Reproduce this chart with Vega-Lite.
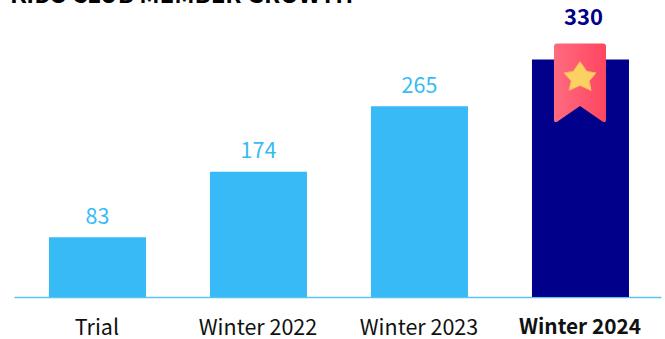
{
  "$schema": "https://vega.github.io/schema/vega-lite/v6.json",
  "autosize": "none",
  "padding": {"left": 14, "top": 9, "right": 4, "bottom": 42},
  "width": 647,
  "height": 288,
  "background": "#ffffff",
  "config": {"view": {"stroke": null}, "font": "Noto Sans CJK SC"},
  "title": {
    "text": "KIDS CLUB MEMBER GROWTH",
    "anchor": "start",
    "frame": "group",
    "dx": -4,
    "offset": -19,
    "font": "Noto Sans CJK SC",
    "fontSize": 23.8,
    "fontWeight": "bold",
    "color": "#000000",
    "baseline": "alphabetic"
  },
  "data": {
    "values": [
      {"period": "Trial", "members": 83},
      {"period": "Winter 2022", "members": 174},
      {"period": "Winter 2023", "members": 265},
      {"period": "Winter 2024", "members": 330}
    ]
  },
  "encoding": {
    "x": {
      "field": "period",
      "type": "nominal",
      "sort": null,
      "scale": {"paddingInner": 0.3975, "paddingOuter": 0.208, "align": 0.522},
      "axis": {
        "title": null,
        "ticks": false,
        "grid": false,
        "labelAngle": 0,
        "labelFontSize": {"condition": {"test": "datum.value === 'Winter 2024'", "value": 20.8}, "value": 21.5},
        "labelColor": "#111111",
        "labelPadding": 20,
        "labelOffset": -0.5,
        "labelFontWeight": {"condition": {"test": "datum.value === 'Winter 2024'", "value": "bold"}, "value": "normal"},
        "domainColor": "#5cc3f2",
        "domainWidth": 1.5
      }
    },
    "y": {
      "field": "members",
      "type": "quantitative",
      "scale": {"domain": [0, 400]},
      "axis": null
    }
  },
  "layer": [
    {
      "mark": {"type": "bar"},
      "encoding": {
        "color": {
          "condition": {"test": "datum.period === 'Winter 2024'", "value": "#00008b"},
          "value": "#38baf7"
        }
      }
    },
    {
      "transform": [{"filter": "datum.period !== 'Winter 2024'"}],
      "mark": {"type": "text", "baseline": "alphabetic", "dy": -13.5, "fontSize": 21.5, "color": "#38baf7"},
      "encoding": {"text": {"field": "members", "type": "quantitative"}}
    },
    {
      "transform": [{"filter": "datum.period === 'Winter 2024'"}],
      "mark": {"type": "text", "baseline": "alphabetic", "dy": -34, "dx": 3, "fontSize": 22, "fontWeight": "bold", "color": "#00008b"},
      "encoding": {"text": {"field": "members", "type": "quantitative"}}
    },
    {
      "transform": [{"filter": "datum.period === 'Winter 2024'"}],
      "mark": {
        "type": "point",
        "filled": true,
        "size": 10000,
        "opacity": 1,
        "shape": "M -0.47 -0.32 L 0.45 -0.32 Q 0.51 -0.32 0.51 -0.26 L 0.51 1.2 Q 0.51 1.28 0.44 1.24 L -0.01 0.934 L -0.46 1.24 Q -0.53 1.28 -0.53 1.2 L -0.53 -0.26 Q -0.53 -0.32 -0.47 -0.32 Z",
        "fill": {
          "x1": 0, "y1": 0, "x2": 1, "y2": 0,
          "gradient": "linear",
          "stops": [
            {"offset": 0, "color": "#ff6b80"},
            {"offset": 1, "color": "#ff4560"}
          ]
        }
      }
    },
    {
      "transform": [{"filter": "datum.period === 'Winter 2024'"}],
      "mark": {
        "type": "point",
        "filled": true,
        "size": 10000,
        "opacity": 1,
        "fill": "#fcd062",
        "stroke": "#f2bc58",
        "strokeWidth": 1,
        "strokeJoin": "round",
        "shape": "M -0.01 0.045 L 0.13 0.24 L 0.31 0.27 L 0.175 0.43 L 0.21 0.62 L -0.01 0.52 L -0.23 0.62 L -0.185 0.43 L -0.33 0.27 L -0.145 0.24 Z"
      }
    }
  ]
}
